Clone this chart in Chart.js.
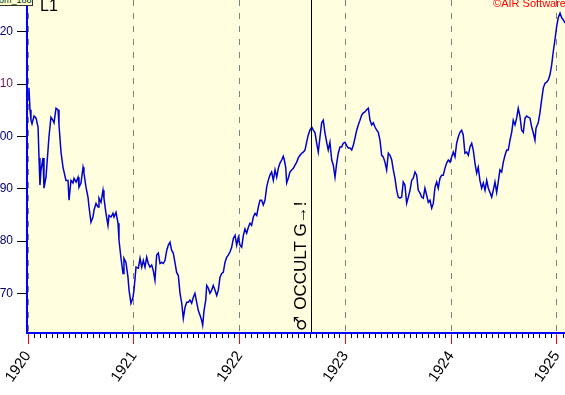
<!DOCTYPE html>
<html>
<head>
<meta charset="utf-8">
<script src="https://cdn.jsdelivr.net/npm/chart.js@4.4.0/dist/chart.umd.min.js"></script>
<style>
  html, body { margin: 0; padding: 0; background: #fff; overflow: hidden; }
  #wrap { position: relative; width: 565px; height: 395px; overflow: hidden; }
  #box { position: absolute; left: -6px; top: 0; width: 571px; height: 395px; }
  .note { position: absolute; font-family: "Liberation Sans", Arial, sans-serif; white-space: nowrap; line-height: 1; }
</style>
</head>
<body>
<div id="wrap">
  <div id="box"><canvas id="chart"></canvas></div>
  <div class="note" id="tag" style="left:-2px; top:-5px; width:33px; height:9px; font-size:9px; background:#ffffcc; border:1px solid #333; overflow:hidden; color:#033;">om_1883...</div>
  <div class="note" style="left:40px; top:-2px; font-size:16px; color:#000;">L1</div>
  <div class="note" style="right:-1px; top:-2px; font-size:11px; color:#ff0000;">©AIR Software</div>
</div>
<script>
// decimal years and prices
const years = [
  1920.000, 1920.009, 1920.019, 1920.028, 1920.038, 1920.057, 1920.076, 1920.095, 1920.104, 1920.113,
  1920.123, 1920.142, 1920.151, 1920.170, 1920.189, 1920.198, 1920.217, 1920.236, 1920.246, 1920.265,
  1920.284, 1920.293, 1920.312, 1920.331, 1920.340, 1920.359, 1920.378, 1920.388, 1920.406, 1920.425,
  1920.435, 1920.454, 1920.473, 1920.482, 1920.501, 1920.520, 1920.529, 1920.548, 1920.567, 1920.577,
  1920.595, 1920.614, 1920.624, 1920.643, 1920.662, 1920.671, 1920.690, 1920.709, 1920.718, 1920.737,
  1920.756, 1920.766, 1920.785, 1920.803, 1920.813, 1920.832, 1920.851, 1920.860, 1920.879, 1920.898,
  1920.907, 1920.926, 1920.945, 1920.955, 1920.973, 1920.992, 1921.002, 1921.021, 1921.043, 1921.059,
  1921.075, 1921.090, 1921.106, 1921.122, 1921.137, 1921.153, 1921.169, 1921.184, 1921.200, 1921.216,
  1921.232, 1921.248, 1921.264, 1921.279, 1921.295, 1921.311, 1921.326, 1921.342, 1921.358, 1921.373,
  1921.389, 1921.405, 1921.421, 1921.437, 1921.453, 1921.468, 1921.484, 1921.500, 1921.515, 1921.531,
  1921.547, 1921.562, 1921.578, 1921.594, 1921.610, 1921.626, 1921.642, 1921.651, 1921.664, 1921.680,
  1921.689, 1921.704, 1921.720, 1921.736, 1921.751, 1921.768, 1921.784, 1921.799, 1921.815, 1921.831,
  1921.846, 1921.862, 1921.878, 1921.893, 1921.909, 1921.925, 1921.941, 1921.957, 1921.973, 1921.988,
  1922.004, 1922.020, 1922.035, 1922.051, 1922.067, 1922.082, 1922.098, 1922.114, 1922.130, 1922.146,
  1922.162, 1922.177, 1922.193, 1922.209, 1922.224, 1922.240, 1922.256, 1922.271, 1922.287, 1922.303,
  1922.319, 1922.335, 1922.351, 1922.366, 1922.382, 1922.398, 1922.413, 1922.423, 1922.436, 1922.445,
  1922.460, 1922.476, 1922.492, 1922.508, 1922.524, 1922.540, 1922.555, 1922.571, 1922.587, 1922.602,
  1922.618, 1922.634, 1922.649, 1922.665, 1922.682, 1922.697, 1922.713, 1922.729, 1922.744, 1922.760,
  1922.776, 1922.791, 1922.807, 1922.823, 1922.838, 1922.854, 1922.871, 1922.886, 1922.902, 1922.918,
  1922.933, 1922.949, 1922.965, 1922.980, 1922.996, 1923.012, 1923.027, 1923.044, 1923.060, 1923.075,
  1923.091, 1923.107, 1923.122, 1923.138, 1923.154, 1923.169, 1923.185, 1923.201, 1923.217, 1923.233,
  1923.249, 1923.264, 1923.280, 1923.296, 1923.311, 1923.327, 1923.343, 1923.358, 1923.374, 1923.390,
  1923.406, 1923.422, 1923.438, 1923.453, 1923.469, 1923.485, 1923.500, 1923.516, 1923.532, 1923.547,
  1923.563, 1923.579, 1923.595, 1923.611, 1923.627, 1923.642, 1923.658, 1923.674, 1923.689, 1923.705,
  1923.721, 1923.736, 1923.752, 1923.768, 1923.784, 1923.800, 1923.816, 1923.831, 1923.847, 1923.863,
  1923.878, 1923.894, 1923.910, 1923.925, 1923.941, 1923.957, 1923.973, 1923.989, 1924.005, 1924.020,
  1924.036, 1924.052, 1924.067, 1924.083, 1924.099, 1924.114, 1924.130, 1924.147, 1924.162, 1924.178,
  1924.194, 1924.209, 1924.225, 1924.241, 1924.256, 1924.272, 1924.288, 1924.304, 1924.320, 1924.336,
  1924.351, 1924.367, 1924.383, 1924.398, 1924.414, 1924.430, 1924.445, 1924.461, 1924.477, 1924.493,
  1924.509, 1924.525, 1924.540, 1924.556, 1924.572, 1924.587, 1924.603, 1924.619, 1924.634, 1924.650,
  1924.666, 1924.682, 1924.698, 1924.714, 1924.729, 1924.745, 1924.761, 1924.776, 1924.792, 1924.802,
  1924.814, 1924.823, 1924.839, 1924.855, 1924.871, 1924.887, 1924.903, 1924.918, 1924.934, 1924.950,
  1924.965, 1924.981, 1924.997, 1925.012, 1925.029, 1925.045, 1925.060, 1925.076
];
const prices = [
  107.0, 109.3, 105.1, 103.1, 102.4, 103.9, 103.5, 101.8, 95.9, 90.7,
  93.6, 95.9, 90.1, 92.2, 97.4, 99.9, 103.7, 103.1, 102.6, 105.4,
  105.1, 102.2, 97.0, 94.1, 94.1, 91.6, 91.6, 87.8, 91.6, 91.1,
  92.0, 91.3, 92.2, 90.3, 91.1, 94.1, 93.0, 90.3, 88.4, 86.5,
  83.6, 84.6, 85.9, 87.2, 86.5, 88.2, 87.4, 89.7, 88.2, 85.3,
  83.0, 84.9, 84.6, 85.3, 84.6, 85.5, 83.4, 80.2, 76.7, 73.8,
  76.7, 75.9, 73.1, 70.6, 68.1, 69.2, 70.6, 75.0, 74.8, 76.7,
  75.0, 76.3, 75.0, 76.9, 75.7, 75.0, 75.4, 74.4, 72.5, 77.3,
  77.7, 75.7, 75.9, 75.7, 76.3, 78.2, 79.2, 79.8, 78.2, 77.7,
  75.9, 74.0, 73.4, 70.0, 68.1, 65.2, 67.3, 68.3, 68.3, 68.7,
  68.1, 69.2, 70.0, 68.3, 66.7, 65.8, 64.8, 63.9, 66.7, 68.7,
  71.5, 71.0, 70.0, 70.6, 71.5, 70.6, 69.6, 70.6, 73.1, 73.8,
  74.0, 75.9, 76.9, 77.3, 77.9, 78.8, 80.5, 81.1, 79.2, 80.7,
  79.2, 78.8, 81.0, 82.3, 81.5, 82.6, 83.4, 83.0, 84.6, 85.3,
  84.9, 86.5, 87.8, 87.8, 86.9, 87.8, 90.3, 91.6, 92.6, 93.2,
  91.6, 93.6, 92.2, 93.9, 94.9, 95.5, 96.2, 95.5, 94.1, 91.1,
  92.0, 93.2, 93.6, 93.9, 94.5, 95.1, 95.9, 96.4, 96.8, 97.0,
  97.4, 98.9, 100.3, 101.2, 101.8, 101.2, 100.7, 98.7, 97.0, 99.9,
  102.6, 103.1, 100.7, 98.9, 97.4, 98.9, 95.5, 94.5, 92.2, 94.9,
  96.8, 98.0, 98.0, 98.7, 98.9, 98.3, 97.8, 97.8, 97.4, 98.3,
  99.7, 101.2, 102.2, 103.1, 104.1, 104.5, 104.7, 105.1, 105.4, 103.1,
  102.2, 102.6, 101.8, 101.2, 100.8, 99.3, 96.4, 96.1, 95.1, 93.6,
  96.8, 96.4, 95.5, 93.6, 92.0, 89.7, 88.4, 88.2, 88.4, 91.3,
  90.7, 87.2, 88.4, 89.7, 91.6, 92.0, 93.2, 92.6, 89.7, 89.2,
  88.4, 88.2, 90.1, 88.8, 87.4, 87.8, 86.3, 87.2, 90.3, 91.3,
  90.1, 92.0, 92.6, 92.6, 93.9, 94.9, 95.5, 95.1, 96.1, 97.0,
  96.1, 98.7, 99.9, 100.8, 101.2, 100.3, 96.8, 97.0, 96.4, 98.0,
  98.7, 97.4, 94.9, 93.0, 94.1, 91.6, 90.1, 91.1, 89.7, 91.6,
  90.1, 89.3, 88.4, 89.7, 91.3, 89.3, 91.3, 93.6, 93.2, 95.1,
  96.4, 97.4, 97.4, 99.3, 100.8, 103.1, 102.2, 103.5, 105.4, 103.9,
  101.2, 100.8, 103.5, 103.9, 103.7, 103.5, 101.8, 100.7, 99.3, 101.6,
  102.2, 102.6, 104.5, 107.0, 109.3, 110.2, 110.4, 110.8, 111.8, 113.7,
  116.2, 118.5, 121.0, 122.7, 123.6, 122.7, 122.3, 121.7
];
const yearTicks = [1920, 1921, 1922, 1923, 1924, 1925];
const priceTicks = [70, 80, 90, 100, 110, 120];
const eventYear = 1922.675;
const eventSymbol = '\u2642';
const eventLabel = 'OCCULT G\u2192!';
const minorPerYear = 18;

const FONT = '"Liberation Sans", Arial, sans-serif';

const decor = {
  id: 'decor',
  beforeDraw(chart) {
    const { ctx, chartArea: a } = chart;
    ctx.save();
    ctx.fillStyle = '#ffffe0';
    ctx.fillRect(a.left, a.top, a.right - a.left, a.bottom - a.top);
    ctx.restore();
  },
  afterDatasetsDraw(chart) {
    const { ctx, chartArea: a, scales: { x } } = chart;
    const ex = Math.round(x.getPixelForValue(eventYear)) + 0.5;
    ctx.save();
    ctx.strokeStyle = '#000';
    ctx.lineWidth = 1;
    ctx.beginPath();
    ctx.moveTo(ex, a.top);
    ctx.lineTo(ex, a.bottom);
    ctx.stroke();
    ctx.translate(ex - 6, a.bottom - 1);
    ctx.rotate(-Math.PI / 2);
    ctx.fillStyle = '#000';
    ctx.textAlign = 'left';
    ctx.textBaseline = 'alphabetic';
    ctx.font = 'bold 17px "DejaVu Sans", sans-serif';
    ctx.fillText(eventSymbol, 0, 0);
    const w = ctx.measureText(eventSymbol + ' ').width;
    ctx.font = '17px ' + FONT;
    ctx.fillText(eventLabel, w, 0);
    ctx.restore();
  },
  afterDraw(chart) {
    const { ctx, chartArea: a, scales: { x } } = chart;
    ctx.save();
    // minor ticks under the axis
    ctx.strokeStyle = '#000';
    ctx.lineWidth = 1;
    const y0 = yearTicks[0];
    for (let i = 1; y0 + i / minorPerYear <= x.max; i++) {
      if (i % minorPerYear === 0) continue;
      const px = Math.round(x.getPixelForValue(y0 + i / minorPerYear)) + 0.5;
      ctx.beginPath();
      ctx.moveTo(px, a.bottom + 2);
      ctx.lineTo(px, a.bottom + 6);
      ctx.stroke();
    }
    // blue axis lines
    ctx.strokeStyle = '#0000ff';
    ctx.lineWidth = 2;
    ctx.beginPath();
    ctx.moveTo(a.left - 1, a.top);
    ctx.lineTo(a.left - 1, a.bottom + 2);
    ctx.stroke();
    ctx.beginPath();
    ctx.moveTo(a.left - 2, a.bottom + 1);
    ctx.lineTo(a.right, a.bottom + 1);
    ctx.stroke();
    ctx.restore();
  }
};

new Chart(document.getElementById('chart'), {
  type: 'line',
  data: {
    datasets: [{
      data: years.map((t, i) => ({ x: t, y: prices[i] })),
      borderColor: '#0000d0',
      borderWidth: 1.5,
      pointRadius: 0,
      tension: 0
    }]
  },
  options: {
    responsive: true,
    maintainAspectRatio: false,
    animation: false,
    devicePixelRatio: 1,
    layout: { padding: 0 },
    plugins: { legend: { display: false }, tooltip: { enabled: false } },
    scales: {
      x: {
        type: 'linear',
        min: 1920,
        max: 1925.076,
        afterBuildTicks: s => { s.ticks = yearTicks.map(v => ({ value: v })); },
        afterFit: s => { s.height = 63; s.paddingLeft = 0; s.paddingRight = 0; },
        grid: {
          color: '#808080',
          lineWidth: 1,
          drawOnChartArea: true,
          drawTicks: true,
          tickLength: 12,
          tickColor: '#ff0000',
          tickWidth: 1
        },
        border: { display: false, dash: [6, 7] },
        ticks: {
          autoSkip: false,
          maxRotation: 55,
          minRotation: 55,
          padding: 4,
          color: '#000',
          font: { family: FONT, size: 15 },
          callback: v => String(v)
        }
      },
      y: {
        min: 62.6,
        max: 126.1,
        afterBuildTicks: s => { s.ticks = priceTicks.map(v => ({ value: v })); },
        afterFit: s => { s.width = 34; s.paddingTop = 0; s.paddingBottom = 0; },
        grid: {
          drawOnChartArea: false,
          drawTicks: true,
          tickLength: 11,
          tickColor: '#000',
          tickWidth: 1
        },
        border: { display: false },
        ticks: {
          padding: 4,
          color: c => (c.tick && c.tick.value === 110 ? '#702050' : '#000070'),
          font: { family: FONT, size: 12 },
          callback: v => String(v)
        }
      }
    }
  },
  plugins: [decor]
});
</script>
</body>
</html>
